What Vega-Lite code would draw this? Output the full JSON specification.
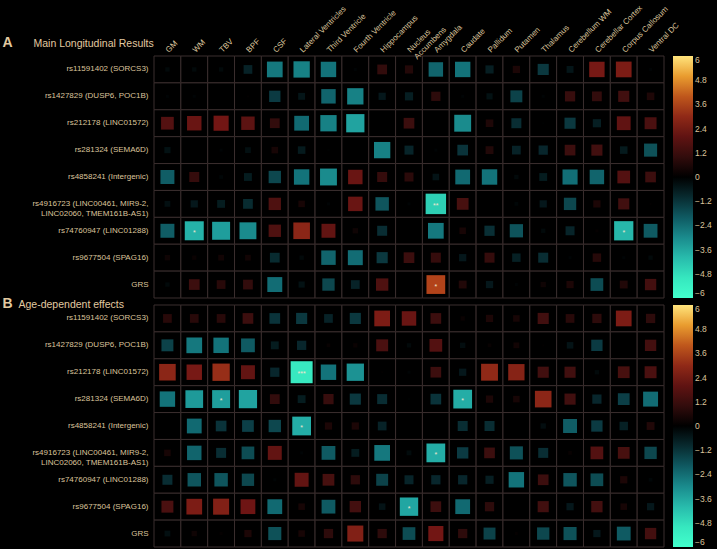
{
  "$schema": "https://vega.github.io/schema/vega-lite/v6.json",
  "background": "#000000",
  "padding": {"left": 2, "top": 3, "right": 5, "bottom": 2},
  "bounds": "flush",
  "spacing": 7,
  "data": {"values": [
{"p":"A","y":"rs11591402 (SORCS3)","x":"GM","t":-0.2},
{"p":"A","y":"rs11591402 (SORCS3)","x":"WM","t":-0.2},
{"p":"A","y":"rs11591402 (SORCS3)","x":"TBV","t":-0.2},
{"p":"A","y":"rs11591402 (SORCS3)","x":"BPF","t":-0.8},
{"p":"A","y":"rs11591402 (SORCS3)","x":"CSF","t":-2.6},
{"p":"A","y":"rs11591402 (SORCS3)","x":"Lateral Ventricles","t":-2.8},
{"p":"A","y":"rs11591402 (SORCS3)","x":"Third Ventricle","t":-2.5},
{"p":"A","y":"rs11591402 (SORCS3)","x":"Fourth Ventricle","t":-0.1},
{"p":"A","y":"rs11591402 (SORCS3)","x":"Hippocampus","t":1.0},
{"p":"A","y":"rs11591402 (SORCS3)","x":"Nucleus|Accumbens","t":0.7},
{"p":"A","y":"rs11591402 (SORCS3)","x":"Amygdala","t":-2.2},
{"p":"A","y":"rs11591402 (SORCS3)","x":"Caudate","t":-2.5},
{"p":"A","y":"rs11591402 (SORCS3)","x":"Pallidum","t":-0.7},
{"p":"A","y":"rs11591402 (SORCS3)","x":"Putamen","t":0.55},
{"p":"A","y":"rs11591402 (SORCS3)","x":"Thalamus","t":-1.3},
{"p":"A","y":"rs11591402 (SORCS3)","x":"Cerebellum WM","t":-0.5},
{"p":"A","y":"rs11591402 (SORCS3)","x":"Cerebellar Cortex","t":2.5},
{"p":"A","y":"rs11591402 (SORCS3)","x":"Corpus Callosum","t":2.6},
{"p":"A","y":"rs11591402 (SORCS3)","x":"Ventral DC","t":-0.1},
{"p":"A","y":"rs1427829 (DUSP6, POC1B)","x":"GM","t":-0.1},
{"p":"A","y":"rs1427829 (DUSP6, POC1B)","x":"WM","t":-0.1},
{"p":"A","y":"rs1427829 (DUSP6, POC1B)","x":"TBV","t":0.0},
{"p":"A","y":"rs1427829 (DUSP6, POC1B)","x":"BPF","t":0.05},
{"p":"A","y":"rs1427829 (DUSP6, POC1B)","x":"CSF","t":-1.35},
{"p":"A","y":"rs1427829 (DUSP6, POC1B)","x":"Lateral Ventricles","t":-0.5},
{"p":"A","y":"rs1427829 (DUSP6, POC1B)","x":"Third Ventricle","t":-2.2},
{"p":"A","y":"rs1427829 (DUSP6, POC1B)","x":"Fourth Ventricle","t":-2.8},
{"p":"A","y":"rs1427829 (DUSP6, POC1B)","x":"Hippocampus","t":-0.55},
{"p":"A","y":"rs1427829 (DUSP6, POC1B)","x":"Nucleus|Accumbens","t":-0.7},
{"p":"A","y":"rs1427829 (DUSP6, POC1B)","x":"Amygdala","t":0.9},
{"p":"A","y":"rs1427829 (DUSP6, POC1B)","x":"Caudate","t":-0.1},
{"p":"A","y":"rs1427829 (DUSP6, POC1B)","x":"Pallidum","t":-0.4},
{"p":"A","y":"rs1427829 (DUSP6, POC1B)","x":"Putamen","t":-1.5},
{"p":"A","y":"rs1427829 (DUSP6, POC1B)","x":"Thalamus","t":-0.1},
{"p":"A","y":"rs1427829 (DUSP6, POC1B)","x":"Cerebellum WM","t":1.1},
{"p":"A","y":"rs1427829 (DUSP6, POC1B)","x":"Cerebellar Cortex","t":1.0},
{"p":"A","y":"rs1427829 (DUSP6, POC1B)","x":"Corpus Callosum","t":1.3},
{"p":"A","y":"rs1427829 (DUSP6, POC1B)","x":"Ventral DC","t":0.6},
{"p":"A","y":"rs212178 (LINC01572)","x":"GM","t":1.7},
{"p":"A","y":"rs212178 (LINC01572)","x":"WM","t":2.2},
{"p":"A","y":"rs212178 (LINC01572)","x":"TBV","t":2.4},
{"p":"A","y":"rs212178 (LINC01572)","x":"BPF","t":1.9},
{"p":"A","y":"rs212178 (LINC01572)","x":"CSF","t":1.0},
{"p":"A","y":"rs212178 (LINC01572)","x":"Lateral Ventricles","t":-2.3},
{"p":"A","y":"rs212178 (LINC01572)","x":"Third Ventricle","t":-2.8},
{"p":"A","y":"rs212178 (LINC01572)","x":"Fourth Ventricle","t":-3.5},
{"p":"A","y":"rs212178 (LINC01572)","x":"Hippocampus","t":0.0},
{"p":"A","y":"rs212178 (LINC01572)","x":"Nucleus|Accumbens","t":1.2},
{"p":"A","y":"rs212178 (LINC01572)","x":"Amygdala","t":0.0},
{"p":"A","y":"rs212178 (LINC01572)","x":"Caudate","t":-3.0},
{"p":"A","y":"rs212178 (LINC01572)","x":"Pallidum","t":0.6},
{"p":"A","y":"rs212178 (LINC01572)","x":"Putamen","t":-1.05},
{"p":"A","y":"rs212178 (LINC01572)","x":"Thalamus","t":-0.05},
{"p":"A","y":"rs212178 (LINC01572)","x":"Cerebellum WM","t":-1.3},
{"p":"A","y":"rs212178 (LINC01572)","x":"Cerebellar Cortex","t":-0.7},
{"p":"A","y":"rs212178 (LINC01572)","x":"Corpus Callosum","t":2.0},
{"p":"A","y":"rs212178 (LINC01572)","x":"Ventral DC","t":1.5},
{"p":"A","y":"rs281324 (SEMA6D)","x":"GM","t":-0.4},
{"p":"A","y":"rs281324 (SEMA6D)","x":"WM","t":0.0},
{"p":"A","y":"rs281324 (SEMA6D)","x":"TBV","t":-0.1},
{"p":"A","y":"rs281324 (SEMA6D)","x":"BPF","t":-0.35},
{"p":"A","y":"rs281324 (SEMA6D)","x":"CSF","t":0.45},
{"p":"A","y":"rs281324 (SEMA6D)","x":"Lateral Ventricles","t":-0.6},
{"p":"A","y":"rs281324 (SEMA6D)","x":"Third Ventricle","t":-0.05},
{"p":"A","y":"rs281324 (SEMA6D)","x":"Fourth Ventricle","t":0.0},
{"p":"A","y":"rs281324 (SEMA6D)","x":"Hippocampus","t":-2.8},
{"p":"A","y":"rs281324 (SEMA6D)","x":"Nucleus|Accumbens","t":-0.85},
{"p":"A","y":"rs281324 (SEMA6D)","x":"Amygdala","t":-0.1},
{"p":"A","y":"rs281324 (SEMA6D)","x":"Caudate","t":-1.2},
{"p":"A","y":"rs281324 (SEMA6D)","x":"Pallidum","t":0.65},
{"p":"A","y":"rs281324 (SEMA6D)","x":"Putamen","t":-0.8},
{"p":"A","y":"rs281324 (SEMA6D)","x":"Thalamus","t":-0.9},
{"p":"A","y":"rs281324 (SEMA6D)","x":"Cerebellum WM","t":1.2},
{"p":"A","y":"rs281324 (SEMA6D)","x":"Cerebellar Cortex","t":1.3},
{"p":"A","y":"rs281324 (SEMA6D)","x":"Corpus Callosum","t":-0.6},
{"p":"A","y":"rs281324 (SEMA6D)","x":"Ventral DC","t":-1.8},
{"p":"A","y":"rs4858241 (Intergenic)","x":"GM","t":-2.05},
{"p":"A","y":"rs4858241 (Intergenic)","x":"WM","t":1.05},
{"p":"A","y":"rs4858241 (Intergenic)","x":"TBV","t":-0.15},
{"p":"A","y":"rs4858241 (Intergenic)","x":"BPF","t":-0.65},
{"p":"A","y":"rs4858241 (Intergenic)","x":"CSF","t":-1.6},
{"p":"A","y":"rs4858241 (Intergenic)","x":"Lateral Ventricles","t":-2.5},
{"p":"A","y":"rs4858241 (Intergenic)","x":"Third Ventricle","t":-3.0},
{"p":"A","y":"rs4858241 (Intergenic)","x":"Fourth Ventricle","t":2.2},
{"p":"A","y":"rs4858241 (Intergenic)","x":"Hippocampus","t":1.05},
{"p":"A","y":"rs4858241 (Intergenic)","x":"Nucleus|Accumbens","t":0.85},
{"p":"A","y":"rs4858241 (Intergenic)","x":"Amygdala","t":-0.45},
{"p":"A","y":"rs4858241 (Intergenic)","x":"Caudate","t":-2.3},
{"p":"A","y":"rs4858241 (Intergenic)","x":"Pallidum","t":-2.5},
{"p":"A","y":"rs4858241 (Intergenic)","x":"Putamen","t":-0.2},
{"p":"A","y":"rs4858241 (Intergenic)","x":"Thalamus","t":-0.65},
{"p":"A","y":"rs4858241 (Intergenic)","x":"Cerebellum WM","t":-2.4},
{"p":"A","y":"rs4858241 (Intergenic)","x":"Cerebellar Cortex","t":-2.2},
{"p":"A","y":"rs4858241 (Intergenic)","x":"Corpus Callosum","t":1.7},
{"p":"A","y":"rs4858241 (Intergenic)","x":"Ventral DC","t":1.2},
{"p":"A","y":"rs4916723 (LINC00461, MIR9-2,|LINC02060, TMEM161B-AS1)","x":"GM","t":-0.35},
{"p":"A","y":"rs4916723 (LINC00461, MIR9-2,|LINC02060, TMEM161B-AS1)","x":"WM","t":-0.55},
{"p":"A","y":"rs4916723 (LINC00461, MIR9-2,|LINC02060, TMEM161B-AS1)","x":"TBV","t":-0.65},
{"p":"A","y":"rs4916723 (LINC00461, MIR9-2,|LINC02060, TMEM161B-AS1)","x":"BPF","t":-1.0},
{"p":"A","y":"rs4916723 (LINC00461, MIR9-2,|LINC02060, TMEM161B-AS1)","x":"CSF","t":1.6},
{"p":"A","y":"rs4916723 (LINC00461, MIR9-2,|LINC02060, TMEM161B-AS1)","x":"Lateral Ventricles","t":0.45},
{"p":"A","y":"rs4916723 (LINC00461, MIR9-2,|LINC02060, TMEM161B-AS1)","x":"Third Ventricle","t":-0.1},
{"p":"A","y":"rs4916723 (LINC00461, MIR9-2,|LINC02060, TMEM161B-AS1)","x":"Fourth Ventricle","t":2.2},
{"p":"A","y":"rs4916723 (LINC00461, MIR9-2,|LINC02060, TMEM161B-AS1)","x":"Hippocampus","t":-1.9},
{"p":"A","y":"rs4916723 (LINC00461, MIR9-2,|LINC02060, TMEM161B-AS1)","x":"Nucleus|Accumbens","t":-0.1},
{"p":"A","y":"rs4916723 (LINC00461, MIR9-2,|LINC02060, TMEM161B-AS1)","x":"Amygdala","t":-4.4,"s":"**"},
{"p":"A","y":"rs4916723 (LINC00461, MIR9-2,|LINC02060, TMEM161B-AS1)","x":"Caudate","t":1.45},
{"p":"A","y":"rs4916723 (LINC00461, MIR9-2,|LINC02060, TMEM161B-AS1)","x":"Pallidum","t":0.0},
{"p":"A","y":"rs4916723 (LINC00461, MIR9-2,|LINC02060, TMEM161B-AS1)","x":"Putamen","t":-0.15},
{"p":"A","y":"rs4916723 (LINC00461, MIR9-2,|LINC02060, TMEM161B-AS1)","x":"Thalamus","t":-0.55},
{"p":"A","y":"rs4916723 (LINC00461, MIR9-2,|LINC02060, TMEM161B-AS1)","x":"Cerebellum WM","t":-1.6},
{"p":"A","y":"rs4916723 (LINC00461, MIR9-2,|LINC02060, TMEM161B-AS1)","x":"Cerebellar Cortex","t":0.55},
{"p":"A","y":"rs4916723 (LINC00461, MIR9-2,|LINC02060, TMEM161B-AS1)","x":"Corpus Callosum","t":1.3},
{"p":"A","y":"rs4916723 (LINC00461, MIR9-2,|LINC02060, TMEM161B-AS1)","x":"Ventral DC","t":0.05},
{"p":"A","y":"rs74760947 (LINC01288)","x":"GM","t":-2.05},
{"p":"A","y":"rs74760947 (LINC01288)","x":"WM","t":-3.8,"s":"*"},
{"p":"A","y":"rs74760947 (LINC01288)","x":"TBV","t":-3.4},
{"p":"A","y":"rs74760947 (LINC01288)","x":"BPF","t":-3.0},
{"p":"A","y":"rs74760947 (LINC01288)","x":"CSF","t":1.6},
{"p":"A","y":"rs74760947 (LINC01288)","x":"Lateral Ventricles","t":2.9},
{"p":"A","y":"rs74760947 (LINC01288)","x":"Third Ventricle","t":2.05},
{"p":"A","y":"rs74760947 (LINC01288)","x":"Fourth Ventricle","t":0.3},
{"p":"A","y":"rs74760947 (LINC01288)","x":"Hippocampus","t":-1.05},
{"p":"A","y":"rs74760947 (LINC01288)","x":"Nucleus|Accumbens","t":0.0},
{"p":"A","y":"rs74760947 (LINC01288)","x":"Amygdala","t":-2.6},
{"p":"A","y":"rs74760947 (LINC01288)","x":"Caudate","t":0.45},
{"p":"A","y":"rs74760947 (LINC01288)","x":"Pallidum","t":-1.1},
{"p":"A","y":"rs74760947 (LINC01288)","x":"Putamen","t":-1.85},
{"p":"A","y":"rs74760947 (LINC01288)","x":"Thalamus","t":-0.2},
{"p":"A","y":"rs74760947 (LINC01288)","x":"Cerebellum WM","t":-0.85},
{"p":"A","y":"rs74760947 (LINC01288)","x":"Cerebellar Cortex","t":0.1},
{"p":"A","y":"rs74760947 (LINC01288)","x":"Corpus Callosum","t":-3.9,"s":"*"},
{"p":"A","y":"rs74760947 (LINC01288)","x":"Ventral DC","t":-2.0},
{"p":"A","y":"rs9677504 (SPAG16)","x":"GM","t":0.3},
{"p":"A","y":"rs9677504 (SPAG16)","x":"WM","t":0.2},
{"p":"A","y":"rs9677504 (SPAG16)","x":"TBV","t":0.35},
{"p":"A","y":"rs9677504 (SPAG16)","x":"BPF","t":0.35},
{"p":"A","y":"rs9677504 (SPAG16)","x":"CSF","t":-1.0},
{"p":"A","y":"rs9677504 (SPAG16)","x":"Lateral Ventricles","t":-0.2},
{"p":"A","y":"rs9677504 (SPAG16)","x":"Third Ventricle","t":-2.2},
{"p":"A","y":"rs9677504 (SPAG16)","x":"Fourth Ventricle","t":-2.35},
{"p":"A","y":"rs9677504 (SPAG16)","x":"Hippocampus","t":-1.3},
{"p":"A","y":"rs9677504 (SPAG16)","x":"Nucleus|Accumbens","t":1.2},
{"p":"A","y":"rs9677504 (SPAG16)","x":"Amygdala","t":1.05},
{"p":"A","y":"rs9677504 (SPAG16)","x":"Caudate","t":-0.55},
{"p":"A","y":"rs9677504 (SPAG16)","x":"Pallidum","t":1.05},
{"p":"A","y":"rs9677504 (SPAG16)","x":"Putamen","t":-0.75},
{"p":"A","y":"rs9677504 (SPAG16)","x":"Thalamus","t":-1.05},
{"p":"A","y":"rs9677504 (SPAG16)","x":"Cerebellum WM","t":-0.1},
{"p":"A","y":"rs9677504 (SPAG16)","x":"Cerebellar Cortex","t":0.75},
{"p":"A","y":"rs9677504 (SPAG16)","x":"Corpus Callosum","t":-0.1},
{"p":"A","y":"rs9677504 (SPAG16)","x":"Ventral DC","t":-0.2},
{"p":"A","y":"GRS","x":"GM","t":-0.2},
{"p":"A","y":"GRS","x":"WM","t":1.2},
{"p":"A","y":"GRS","x":"TBV","t":0.8},
{"p":"A","y":"GRS","x":"BPF","t":1.0},
{"p":"A","y":"GRS","x":"CSF","t":-2.35},
{"p":"A","y":"GRS","x":"Lateral Ventricles","t":-0.4},
{"p":"A","y":"GRS","x":"Third Ventricle","t":-1.6},
{"p":"A","y":"GRS","x":"Fourth Ventricle","t":-0.8},
{"p":"A","y":"GRS","x":"Hippocampus","t":1.6},
{"p":"A","y":"GRS","x":"Nucleus|Accumbens","t":0.0},
{"p":"A","y":"GRS","x":"Amygdala","t":3.7,"s":"*"},
{"p":"A","y":"GRS","x":"Caudate","t":0.65},
{"p":"A","y":"GRS","x":"Pallidum","t":-0.55},
{"p":"A","y":"GRS","x":"Putamen","t":-0.1},
{"p":"A","y":"GRS","x":"Thalamus","t":0.3},
{"p":"A","y":"GRS","x":"Cerebellum WM","t":0.55},
{"p":"A","y":"GRS","x":"Cerebellar Cortex","t":-1.7},
{"p":"A","y":"GRS","x":"Corpus Callosum","t":0.65},
{"p":"A","y":"GRS","x":"Ventral DC","t":1.35},
{"p":"B","y":"rs11591402 (SORCS3)","x":"GM","t":0.8},
{"p":"B","y":"rs11591402 (SORCS3)","x":"WM","t":0.8},
{"p":"B","y":"rs11591402 (SORCS3)","x":"TBV","t":0.8},
{"p":"B","y":"rs11591402 (SORCS3)","x":"BPF","t":1.2},
{"p":"B","y":"rs11591402 (SORCS3)","x":"CSF","t":-1.2},
{"p":"B","y":"rs11591402 (SORCS3)","x":"Lateral Ventricles","t":-1.3},
{"p":"B","y":"rs11591402 (SORCS3)","x":"Third Ventricle","t":-0.8},
{"p":"B","y":"rs11591402 (SORCS3)","x":"Fourth Ventricle","t":-1.3},
{"p":"B","y":"rs11591402 (SORCS3)","x":"Hippocampus","t":2.6},
{"p":"B","y":"rs11591402 (SORCS3)","x":"Nucleus|Accumbens","t":2.2},
{"p":"B","y":"rs11591402 (SORCS3)","x":"Amygdala","t":1.2},
{"p":"B","y":"rs11591402 (SORCS3)","x":"Caudate","t":0.2},
{"p":"B","y":"rs11591402 (SORCS3)","x":"Pallidum","t":0.55},
{"p":"B","y":"rs11591402 (SORCS3)","x":"Putamen","t":0.45},
{"p":"B","y":"rs11591402 (SORCS3)","x":"Thalamus","t":1.3},
{"p":"B","y":"rs11591402 (SORCS3)","x":"Cerebellum WM","t":0.8},
{"p":"B","y":"rs11591402 (SORCS3)","x":"Cerebellar Cortex","t":0.9},
{"p":"B","y":"rs11591402 (SORCS3)","x":"Corpus Callosum","t":2.6},
{"p":"B","y":"rs11591402 (SORCS3)","x":"Ventral DC","t":0.9},
{"p":"B","y":"rs1427829 (DUSP6, POC1B)","x":"GM","t":-1.5},
{"p":"B","y":"rs1427829 (DUSP6, POC1B)","x":"WM","t":-2.6},
{"p":"B","y":"rs1427829 (DUSP6, POC1B)","x":"TBV","t":-2.5},
{"p":"B","y":"rs1427829 (DUSP6, POC1B)","x":"BPF","t":-2.0},
{"p":"B","y":"rs1427829 (DUSP6, POC1B)","x":"CSF","t":-0.65},
{"p":"B","y":"rs1427829 (DUSP6, POC1B)","x":"Lateral Ventricles","t":-0.9},
{"p":"B","y":"rs1427829 (DUSP6, POC1B)","x":"Third Ventricle","t":0.15},
{"p":"B","y":"rs1427829 (DUSP6, POC1B)","x":"Fourth Ventricle","t":0.2},
{"p":"B","y":"rs1427829 (DUSP6, POC1B)","x":"Hippocampus","t":1.5},
{"p":"B","y":"rs1427829 (DUSP6, POC1B)","x":"Nucleus|Accumbens","t":-0.2},
{"p":"B","y":"rs1427829 (DUSP6, POC1B)","x":"Amygdala","t":1.7},
{"p":"B","y":"rs1427829 (DUSP6, POC1B)","x":"Caudate","t":-0.3},
{"p":"B","y":"rs1427829 (DUSP6, POC1B)","x":"Pallidum","t":0.15},
{"p":"B","y":"rs1427829 (DUSP6, POC1B)","x":"Putamen","t":0.35},
{"p":"B","y":"rs1427829 (DUSP6, POC1B)","x":"Thalamus","t":0.05},
{"p":"B","y":"rs1427829 (DUSP6, POC1B)","x":"Cerebellum WM","t":-0.45},
{"p":"B","y":"rs1427829 (DUSP6, POC1B)","x":"Cerebellar Cortex","t":-1.35},
{"p":"B","y":"rs1427829 (DUSP6, POC1B)","x":"Corpus Callosum","t":0.0},
{"p":"B","y":"rs1427829 (DUSP6, POC1B)","x":"Ventral DC","t":1.35},
{"p":"B","y":"rs212178 (LINC01572)","x":"GM","t":2.9},
{"p":"B","y":"rs212178 (LINC01572)","x":"WM","t":2.5},
{"p":"B","y":"rs212178 (LINC01572)","x":"TBV","t":3.15},
{"p":"B","y":"rs212178 (LINC01572)","x":"BPF","t":2.05},
{"p":"B","y":"rs212178 (LINC01572)","x":"CSF","t":-0.9},
{"p":"B","y":"rs212178 (LINC01572)","x":"Lateral Ventricles","t":-5.1,"s":"***"},
{"p":"B","y":"rs212178 (LINC01572)","x":"Third Ventricle","t":-2.5},
{"p":"B","y":"rs212178 (LINC01572)","x":"Fourth Ventricle","t":-3.15},
{"p":"B","y":"rs212178 (LINC01572)","x":"Hippocampus","t":0.05},
{"p":"B","y":"rs212178 (LINC01572)","x":"Nucleus|Accumbens","t":-0.1},
{"p":"B","y":"rs212178 (LINC01572)","x":"Amygdala","t":1.2},
{"p":"B","y":"rs212178 (LINC01572)","x":"Caudate","t":-0.55},
{"p":"B","y":"rs212178 (LINC01572)","x":"Pallidum","t":3.0},
{"p":"B","y":"rs212178 (LINC01572)","x":"Putamen","t":2.8},
{"p":"B","y":"rs212178 (LINC01572)","x":"Thalamus","t":1.3},
{"p":"B","y":"rs212178 (LINC01572)","x":"Cerebellum WM","t":1.3},
{"p":"B","y":"rs212178 (LINC01572)","x":"Cerebellar Cortex","t":-0.2},
{"p":"B","y":"rs212178 (LINC01572)","x":"Corpus Callosum","t":1.45},
{"p":"B","y":"rs212178 (LINC01572)","x":"Ventral DC","t":1.5},
{"p":"B","y":"rs281324 (SEMA6D)","x":"GM","t":-2.5},
{"p":"B","y":"rs281324 (SEMA6D)","x":"WM","t":-3.3},
{"p":"B","y":"rs281324 (SEMA6D)","x":"TBV","t":-3.4,"s":"*"},
{"p":"B","y":"rs281324 (SEMA6D)","x":"BPF","t":-3.5},
{"p":"B","y":"rs281324 (SEMA6D)","x":"CSF","t":1.0},
{"p":"B","y":"rs281324 (SEMA6D)","x":"Lateral Ventricles","t":-0.65},
{"p":"B","y":"rs281324 (SEMA6D)","x":"Third Ventricle","t":1.1},
{"p":"B","y":"rs281324 (SEMA6D)","x":"Fourth Ventricle","t":-1.3},
{"p":"B","y":"rs281324 (SEMA6D)","x":"Hippocampus","t":-1.05},
{"p":"B","y":"rs281324 (SEMA6D)","x":"Nucleus|Accumbens","t":-0.05},
{"p":"B","y":"rs281324 (SEMA6D)","x":"Amygdala","t":-1.2},
{"p":"B","y":"rs281324 (SEMA6D)","x":"Caudate","t":-3.7,"s":"*"},
{"p":"B","y":"rs281324 (SEMA6D)","x":"Pallidum","t":0.55},
{"p":"B","y":"rs281324 (SEMA6D)","x":"Putamen","t":0.45},
{"p":"B","y":"rs281324 (SEMA6D)","x":"Thalamus","t":2.9},
{"p":"B","y":"rs281324 (SEMA6D)","x":"Cerebellum WM","t":1.3},
{"p":"B","y":"rs281324 (SEMA6D)","x":"Cerebellar Cortex","t":-0.9},
{"p":"B","y":"rs281324 (SEMA6D)","x":"Corpus Callosum","t":-1.45},
{"p":"B","y":"rs281324 (SEMA6D)","x":"Ventral DC","t":-2.35},
{"p":"B","y":"rs4858241 (Intergenic)","x":"GM","t":0.0},
{"p":"B","y":"rs4858241 (Intergenic)","x":"WM","t":-2.3},
{"p":"B","y":"rs4858241 (Intergenic)","x":"TBV","t":-1.2},
{"p":"B","y":"rs4858241 (Intergenic)","x":"BPF","t":-1.45},
{"p":"B","y":"rs4858241 (Intergenic)","x":"CSF","t":-1.6},
{"p":"B","y":"rs4858241 (Intergenic)","x":"Lateral Ventricles","t":-3.7,"s":"*"},
{"p":"B","y":"rs4858241 (Intergenic)","x":"Third Ventricle","t":0.55},
{"p":"B","y":"rs4858241 (Intergenic)","x":"Fourth Ventricle","t":0.55},
{"p":"B","y":"rs4858241 (Intergenic)","x":"Hippocampus","t":-0.8},
{"p":"B","y":"rs4858241 (Intergenic)","x":"Nucleus|Accumbens","t":0.0},
{"p":"B","y":"rs4858241 (Intergenic)","x":"Amygdala","t":0.0},
{"p":"B","y":"rs4858241 (Intergenic)","x":"Caudate","t":-1.05},
{"p":"B","y":"rs4858241 (Intergenic)","x":"Pallidum","t":-1.05},
{"p":"B","y":"rs4858241 (Intergenic)","x":"Putamen","t":0.0},
{"p":"B","y":"rs4858241 (Intergenic)","x":"Thalamus","t":-0.3},
{"p":"B","y":"rs4858241 (Intergenic)","x":"Cerebellum WM","t":-2.05},
{"p":"B","y":"rs4858241 (Intergenic)","x":"Cerebellar Cortex","t":-1.35},
{"p":"B","y":"rs4858241 (Intergenic)","x":"Corpus Callosum","t":-0.75},
{"p":"B","y":"rs4858241 (Intergenic)","x":"Ventral DC","t":0.65},
{"p":"B","y":"rs4916723 (LINC00461, MIR9-2,|LINC02060, TMEM161B-AS1)","x":"GM","t":0.45},
{"p":"B","y":"rs4916723 (LINC00461, MIR9-2,|LINC02060, TMEM161B-AS1)","x":"WM","t":-2.2},
{"p":"B","y":"rs4916723 (LINC00461, MIR9-2,|LINC02060, TMEM161B-AS1)","x":"TBV","t":-1.05},
{"p":"B","y":"rs4916723 (LINC00461, MIR9-2,|LINC02060, TMEM161B-AS1)","x":"BPF","t":-1.7},
{"p":"B","y":"rs4916723 (LINC00461, MIR9-2,|LINC02060, TMEM161B-AS1)","x":"CSF","t":2.05},
{"p":"B","y":"rs4916723 (LINC00461, MIR9-2,|LINC02060, TMEM161B-AS1)","x":"Lateral Ventricles","t":-0.1},
{"p":"B","y":"rs4916723 (LINC00461, MIR9-2,|LINC02060, TMEM161B-AS1)","x":"Third Ventricle","t":-2.0},
{"p":"B","y":"rs4916723 (LINC00461, MIR9-2,|LINC02060, TMEM161B-AS1)","x":"Fourth Ventricle","t":-0.65},
{"p":"B","y":"rs4916723 (LINC00461, MIR9-2,|LINC02060, TMEM161B-AS1)","x":"Hippocampus","t":-2.6},
{"p":"B","y":"rs4916723 (LINC00461, MIR9-2,|LINC02060, TMEM161B-AS1)","x":"Nucleus|Accumbens","t":-0.25},
{"p":"B","y":"rs4916723 (LINC00461, MIR9-2,|LINC02060, TMEM161B-AS1)","x":"Amygdala","t":-3.7,"s":"*"},
{"p":"B","y":"rs4916723 (LINC00461, MIR9-2,|LINC02060, TMEM161B-AS1)","x":"Caudate","t":-1.35},
{"p":"B","y":"rs4916723 (LINC00461, MIR9-2,|LINC02060, TMEM161B-AS1)","x":"Pallidum","t":1.2},
{"p":"B","y":"rs4916723 (LINC00461, MIR9-2,|LINC02060, TMEM161B-AS1)","x":"Putamen","t":-1.8},
{"p":"B","y":"rs4916723 (LINC00461, MIR9-2,|LINC02060, TMEM161B-AS1)","x":"Thalamus","t":-1.05},
{"p":"B","y":"rs4916723 (LINC00461, MIR9-2,|LINC02060, TMEM161B-AS1)","x":"Cerebellum WM","t":0.15},
{"p":"B","y":"rs4916723 (LINC00461, MIR9-2,|LINC02060, TMEM161B-AS1)","x":"Cerebellar Cortex","t":1.7},
{"p":"B","y":"rs4916723 (LINC00461, MIR9-2,|LINC02060, TMEM161B-AS1)","x":"Corpus Callosum","t":1.45},
{"p":"B","y":"rs4916723 (LINC00461, MIR9-2,|LINC02060, TMEM161B-AS1)","x":"Ventral DC","t":-1.6},
{"p":"B","y":"rs74760947 (LINC01288)","x":"GM","t":-1.05},
{"p":"B","y":"rs74760947 (LINC01288)","x":"WM","t":-1.9},
{"p":"B","y":"rs74760947 (LINC01288)","x":"TBV","t":-1.9},
{"p":"B","y":"rs74760947 (LINC01288)","x":"BPF","t":-1.6},
{"p":"B","y":"rs74760947 (LINC01288)","x":"CSF","t":-0.1},
{"p":"B","y":"rs74760947 (LINC01288)","x":"Lateral Ventricles","t":2.05},
{"p":"B","y":"rs74760947 (LINC01288)","x":"Third Ventricle","t":1.45},
{"p":"B","y":"rs74760947 (LINC01288)","x":"Fourth Ventricle","t":0.9},
{"p":"B","y":"rs74760947 (LINC01288)","x":"Hippocampus","t":-1.5},
{"p":"B","y":"rs74760947 (LINC01288)","x":"Nucleus|Accumbens","t":-0.85},
{"p":"B","y":"rs74760947 (LINC01288)","x":"Amygdala","t":-0.9},
{"p":"B","y":"rs74760947 (LINC01288)","x":"Caudate","t":-0.9},
{"p":"B","y":"rs74760947 (LINC01288)","x":"Pallidum","t":-0.7},
{"p":"B","y":"rs74760947 (LINC01288)","x":"Putamen","t":-2.5},
{"p":"B","y":"rs74760947 (LINC01288)","x":"Thalamus","t":1.2},
{"p":"B","y":"rs74760947 (LINC01288)","x":"Cerebellum WM","t":-1.9},
{"p":"B","y":"rs74760947 (LINC01288)","x":"Cerebellar Cortex","t":-1.7},
{"p":"B","y":"rs74760947 (LINC01288)","x":"Corpus Callosum","t":0.55},
{"p":"B","y":"rs74760947 (LINC01288)","x":"Ventral DC","t":-0.15},
{"p":"B","y":"rs9677504 (SPAG16)","x":"GM","t":1.5},
{"p":"B","y":"rs9677504 (SPAG16)","x":"WM","t":2.6},
{"p":"B","y":"rs9677504 (SPAG16)","x":"TBV","t":2.7},
{"p":"B","y":"rs9677504 (SPAG16)","x":"BPF","t":2.3},
{"p":"B","y":"rs9677504 (SPAG16)","x":"CSF","t":-2.3},
{"p":"B","y":"rs9677504 (SPAG16)","x":"Lateral Ventricles","t":0.45},
{"p":"B","y":"rs9677504 (SPAG16)","x":"Third Ventricle","t":-2.0},
{"p":"B","y":"rs9677504 (SPAG16)","x":"Fourth Ventricle","t":1.35},
{"p":"B","y":"rs9677504 (SPAG16)","x":"Hippocampus","t":-0.45},
{"p":"B","y":"rs9677504 (SPAG16)","x":"Nucleus|Accumbens","t":-3.55,"s":"*"},
{"p":"B","y":"rs9677504 (SPAG16)","x":"Amygdala","t":1.2},
{"p":"B","y":"rs9677504 (SPAG16)","x":"Caudate","t":-2.3},
{"p":"B","y":"rs9677504 (SPAG16)","x":"Pallidum","t":0.9},
{"p":"B","y":"rs9677504 (SPAG16)","x":"Putamen","t":0.0},
{"p":"B","y":"rs9677504 (SPAG16)","x":"Thalamus","t":1.3},
{"p":"B","y":"rs9677504 (SPAG16)","x":"Cerebellum WM","t":-0.55},
{"p":"B","y":"rs9677504 (SPAG16)","x":"Cerebellar Cortex","t":1.35},
{"p":"B","y":"rs9677504 (SPAG16)","x":"Corpus Callosum","t":0.45},
{"p":"B","y":"rs9677504 (SPAG16)","x":"Ventral DC","t":-0.55},
{"p":"B","y":"GRS","x":"GM","t":-0.35},
{"p":"B","y":"GRS","x":"WM","t":0.3},
{"p":"B","y":"GRS","x":"TBV","t":0.1},
{"p":"B","y":"GRS","x":"BPF","t":0.55},
{"p":"B","y":"GRS","x":"CSF","t":-1.8},
{"p":"B","y":"GRS","x":"Lateral Ventricles","t":0.45},
{"p":"B","y":"GRS","x":"Third Ventricle","t":0.9},
{"p":"B","y":"GRS","x":"Fourth Ventricle","t":2.7},
{"p":"B","y":"GRS","x":"Hippocampus","t":0.9},
{"p":"B","y":"GRS","x":"Nucleus|Accumbens","t":-1.7},
{"p":"B","y":"GRS","x":"Amygdala","t":2.4},
{"p":"B","y":"GRS","x":"Caudate","t":0.9},
{"p":"B","y":"GRS","x":"Pallidum","t":-1.5},
{"p":"B","y":"GRS","x":"Putamen","t":0.1},
{"p":"B","y":"GRS","x":"Thalamus","t":-1.6},
{"p":"B","y":"GRS","x":"Cerebellum WM","t":-1.8},
{"p":"B","y":"GRS","x":"Cerebellar Cortex","t":-0.55},
{"p":"B","y":"GRS","x":"Corpus Callosum","t":-2.0},
{"p":"B","y":"GRS","x":"Ventral DC","t":1.35}
  ]},
  "resolve": {"scale": {"color": "independent", "size": "independent"}, "legend": {"color": "independent"}},
  "vconcat": [
    {
      "width": 510, "height": 242,
      "transform": [{"filter": "datum.p == 'A'"}],
      "encoding": {
        "x": {"field": "x", "type": "nominal",
          "sort": ["GM","WM","TBV","BPF","CSF","Lateral Ventricles","Third Ventricle","Fourth Ventricle","Hippocampus","Nucleus|Accumbens","Amygdala","Caudate","Pallidum","Putamen","Thalamus","Cerebellum WM","Cerebellar Cortex","Corpus Callosum","Ventral DC"],
          "scale": {"paddingInner": 0, "paddingOuter": 0},
          "axis": {"orient": "top", "labelAngle": -45, "labelAlign": "left", "labelBaseline": "middle", "labelPadding": 5, "labelLimit": 0, "labelLineHeight": 9.5,
            "labelExpr": "split(datum.label, '|')",
            "title": "A", "titleFontSize": 14, "titleFontWeight": "bold", "titleX": -152, "titleY": -14, "titleAlign": "left", "titleBaseline": "middle", "titleAngle": 0}},
        "y": {"field": "y", "type": "nominal",
          "sort": ["rs11591402 (SORCS3)","rs1427829 (DUSP6, POC1B)","rs212178 (LINC01572)","rs281324 (SEMA6D)","rs4858241 (Intergenic)","rs4916723 (LINC00461, MIR9-2,|LINC02060, TMEM161B-AS1)","rs74760947 (LINC01288)","rs9677504 (SPAG16)","GRS"],
          "scale": {"paddingInner": 0, "paddingOuter": 0},
          "axis": {"labelPadding": 6, "labelLimit": 0, "labelLineHeight": 10,
            "labelExpr": "split(datum.label, '|')",
            "title": "Main Longitudinal Results", "titleFontSize": 10.5, "titleFontWeight": "normal", "titleAngle": 0, "titleX": -121, "titleY": -13, "titleAlign": "left", "titleBaseline": "middle"}}
      },
      "layer": [
        {"mark": {"type": "rect", "fill": "#000000", "stroke": "#3a2e2e", "strokeWidth": 1}},
        {"mark": {"type": "square", "filled": true, "opacity": 1},
         "encoding": {
           "color": {"field": "t", "type": "quantitative",
             "scale": {"domain": [-6,-4.8,-3.6,-2.4,-1.2,0,1.2,2.4,3.6,4.8,6], "range": ["#42ffcc","#34e2bc","#22a8a4","#126e76","#0a333a","#000000","#3c0e0e","#721614","#ad3c1a","#e48e1f","#ffe47c"], "interpolate": "rgb"},
             "legend": {"values": [6,4.8,3.6,2.4,1.2,0,-1.2,-2.4,-3.6,-4.8,-6], "format": ".1~f"}},
           "size": {"field": "t", "type": "quantitative", "scale": {"domain": [-6,0,6], "range": [570,0,570]}, "legend": null}
         }},
        {"transform": [{"filter": "datum.s"}],
         "mark": {"type": "text", "fontSize": 7, "color": "#f0e6d0", "baseline": "middle", "dy": 2},
         "encoding": {"text": {"field": "s"}}}
      ]
    },
    {
      "width": 510, "height": 242,
      "transform": [{"filter": "datum.p == 'B'"}],
      "encoding": {
        "x": {"field": "x", "type": "nominal",
          "sort": ["GM","WM","TBV","BPF","CSF","Lateral Ventricles","Third Ventricle","Fourth Ventricle","Hippocampus","Nucleus|Accumbens","Amygdala","Caudate","Pallidum","Putamen","Thalamus","Cerebellum WM","Cerebellar Cortex","Corpus Callosum","Ventral DC"],
          "scale": {"paddingInner": 0, "paddingOuter": 0},
          "axis": {"orient": "top", "labels": false,
            "title": "B", "titleFontSize": 14, "titleFontWeight": "bold", "titleX": -152, "titleY": -2, "titleAlign": "left", "titleBaseline": "middle", "titleAngle": 0}},
        "y": {"field": "y", "type": "nominal",
          "sort": ["rs11591402 (SORCS3)","rs1427829 (DUSP6, POC1B)","rs212178 (LINC01572)","rs281324 (SEMA6D)","rs4858241 (Intergenic)","rs4916723 (LINC00461, MIR9-2,|LINC02060, TMEM161B-AS1)","rs74760947 (LINC01288)","rs9677504 (SPAG16)","GRS"],
          "scale": {"paddingInner": 0, "paddingOuter": 0},
          "axis": {"labelPadding": 6, "labelLimit": 0, "labelLineHeight": 10,
            "labelExpr": "split(datum.label, '|')",
            "title": "Age-dependent effects", "titleFontSize": 10.5, "titleFontWeight": "normal", "titleAngle": 0, "titleX": -136, "titleY": -1, "titleAlign": "left", "titleBaseline": "middle"}}
      },
      "layer": [
        {"mark": {"type": "rect", "fill": "#000000", "stroke": "#3a2e2e", "strokeWidth": 1}},
        {"mark": {"type": "square", "filled": true, "opacity": 1},
         "encoding": {
           "color": {"field": "t", "type": "quantitative",
             "scale": {"domain": [-6,-4.8,-3.6,-2.4,-1.2,0,1.2,2.4,3.6,4.8,6], "range": ["#42ffcc","#34e2bc","#22a8a4","#126e76","#0a333a","#000000","#3c0e0e","#721614","#ad3c1a","#e48e1f","#ffe47c"], "interpolate": "rgb"},
             "legend": {"values": [6,4.8,3.6,2.4,1.2,0,-1.2,-2.4,-3.6,-4.8,-6], "format": ".1~f"}},
           "size": {"field": "t", "type": "quantitative", "scale": {"domain": [-6,0,6], "range": [570,0,570]}, "legend": null}
         }},
        {"transform": [{"filter": "datum.s"}],
         "mark": {"type": "text", "fontSize": 7, "color": "#f0e6d0", "baseline": "middle", "dy": 2},
         "encoding": {"text": {"field": "s"}}}
      ]
    }
  ],
  "config": {
    "font": "Liberation Sans",
    "view": {"stroke": null},
    "axis": {"domain": false, "ticks": false, "grid": false, "labelColor": "#dcc49c", "titleColor": "#e2caa0", "labelFont": "Liberation Sans", "titleFont": "Liberation Sans", "labelFontSize": 8},
    "legend": {"orient": "right", "offset": 9, "padding": 0, "gradientLength": 242, "gradientThickness": 20, "gradientStrokeWidth": 0, "labelFontSize": 8.5, "labelColor": "#dcc49c", "labelFont": "Liberation Sans", "labelOffset": 7, "title": null, "direction": "vertical"}
  }
}
